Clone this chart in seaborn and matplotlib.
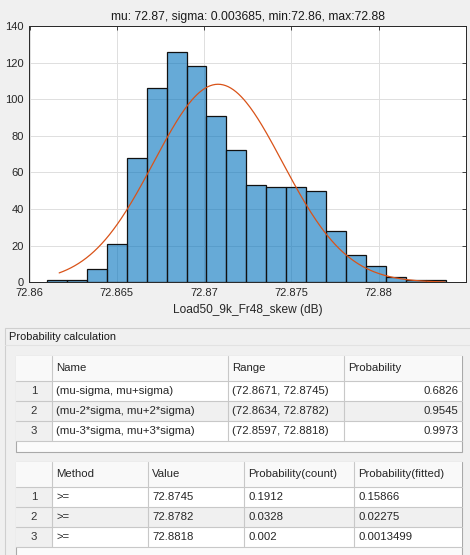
import numpy as np
import pandas as pd
import matplotlib
matplotlib.use('Agg')
import matplotlib.pyplot as plt
from matplotlib.patches import Rectangle
import seaborn as sns

# histogram
bin_lo = 72.8610
bin_width = 0.001142
counts = [1, 1, 7, 21, 68, 106, 126, 118, 91, 72, 53, 52, 52, 50, 28, 15, 9, 3, 1, 1]

# fitted normal (from the title / table)
mu = 72.8708
sigma = 0.003685
fit_lo, fit_hi = 72.8617, 72.8838

x_ticks = [72.86, 72.865, 72.87, 72.875, 72.88]
x_tick_labels = ['72.86', '72.865', '72.87', '72.875', '72.88']
y_ticks = [0, 20, 40, 60, 80, 100, 120, 140]

title = 'mu: 72.87, sigma: 0.003685, min:72.86, max:72.88'
xlabel = 'Load50_9k_Fr48_skew (dB)'

# tables
t1_cols = ['Name', 'Range', 'Probability']
t1_names = ['(mu-sigma, mu+sigma)', '(mu-2*sigma, mu+2*sigma)', '(mu-3*sigma, mu+3*sigma)']
t1_ranges = ['(72.8671, 72.8745)', '(72.8634, 72.8782)', '(72.8597, 72.8818)']
t1_probs = ['0.6826', '0.9545', '0.9973']

t2_cols = ['Method', 'Value', 'Probability(count)', 'Probability(fitted)']
t2_methods = ['>=', '>=', '>=']
t2_values = ['72.8745', '72.8782', '72.8818']
t2_count = ['0.1912', '0.0328', '0.002']
t2_fitted = ['0.15866', '0.02275', '0.0013499']

sns.set_style('white')
plt.rcParams['font.family'] = ['Liberation Sans', 'DejaVu Sans']

W, H = 470, 555
fig = plt.figure(figsize=(W / 100, H / 100), dpi=100)
fig.patch.set_facecolor('#f0f0f0')

TFS = 8.2  # table font size

# ---------------- table panel (pixel coordinates) ----------------
pan = fig.add_axes([0, 0, 1, 1], zorder=0)
pan.set_xlim(0, W)
pan.set_ylim(H, 0)
pan.axis('off')

pan.add_patch(Rectangle((5, 328), 470, 240, facecolor='#f0f0f0', edgecolor='#cfcfcf', lw=0.8))
pan.plot([5, 470], [345, 345], color='#e2e2e2', lw=0.8)
pan.text(9, 337, 'Probability calculation', fontsize=7.9, color='#1a1a1a', va='center', ha='left')


def draw_table(top, col_edges, col_names, rows, aligns, bottom):
    left, right = col_edges[0], col_edges[-1]
    head_h, row_h = 25, 20
    # outer frame / white background
    pan.add_patch(Rectangle((left, top), right - left, bottom - top, facecolor='#fbfbfb',
                            edgecolor='#a9a9a9', lw=0.8, zorder=1))
    # header
    pan.add_patch(Rectangle((left, top), right - left, head_h, facecolor='#f9f9f9',
                            edgecolor='none', zorder=1))
    for j, name in enumerate(col_names):
        pan.text(col_edges[j + 1] + 4, top + head_h / 2, name, fontsize=TFS, color='#262626',
                 va='center', ha='left', zorder=3)
    # rows
    for i, row in enumerate(rows):
        y0 = top + head_h + i * row_h
        pan.add_patch(Rectangle((left, y0), col_edges[1] - left, row_h, facecolor='#f0f0f0',
                                edgecolor='none', zorder=1))
        fc = '#f0f0f0' if i % 2 == 1 else 'white'
        pan.add_patch(Rectangle((col_edges[1], y0), right - col_edges[1], row_h, facecolor=fc,
                                edgecolor='none', zorder=1))
        pan.text((left + col_edges[1]) / 2, y0 + row_h / 2, str(i + 1), fontsize=TFS,
                 color='#333333', va='center', ha='center', zorder=3)
        for j, val in enumerate(row):
            if aligns[j] == 'right':
                pan.text(col_edges[j + 2] - 3, y0 + row_h / 2, val, fontsize=TFS, color='#262626',
                         va='center', ha='right', zorder=3)
            else:
                pan.text(col_edges[j + 1] + 4, y0 + row_h / 2, val, fontsize=TFS, color='#262626',
                         va='center', ha='left', zorder=3)
    # grid lines
    n = len(rows)
    last = top + head_h + n * row_h
    for k in range(n + 1):
        yy = top + head_h + k * row_h
        pan.plot([left, right], [yy, yy], color='#c8c8c8', lw=0.8, zorder=2)
    for xx in col_edges[1:-1]:
        pan.plot([xx, xx], [top, last], color='#c8c8c8', lw=0.8, zorder=2)


draw_table(355.7, [15.7, 52.3, 227.7, 344.3, 461.7], t1_cols,
           list(zip(t1_names, t1_ranges, t1_probs)), ['left', 'left', 'right'], 451.7)
draw_table(461.7, [15.7, 52.3, 148.3, 244.3, 354.3, 461.7], t2_cols,
           list(zip(t2_methods, t2_values, t2_count, t2_fitted)),
           ['left', 'left', 'left', 'left'], 570)

# ---------------- histogram ----------------
ax = fig.add_axes([29.5 / W, 1 - 282.3 / H, (466 - 29.5) / W, (282.3 - 26) / H], zorder=2)
ax.set_facecolor('white')

edges = [bin_lo + bin_width * k for k in range(len(counts) + 1)]
centers = [(a + b) / 2 for a, b in zip(edges[:-1], edges[1:])]
df = pd.DataFrame({'x': centers, 'count': counts})
sns.histplot(data=df, x='x', weights='count', bins=edges, stat='count',
             color='#0072BD', alpha=0.6, edgecolor='#111111', linewidth=0.9, ax=ax, zorder=2)

xf = np.linspace(fit_lo, fit_hi, 300)
yf = sum(counts) * bin_width * np.exp(-0.5 * ((xf - mu) / sigma) ** 2) / (sigma * np.sqrt(2 * np.pi))
sns.lineplot(x=xf, y=yf, color='#D95319', linewidth=0.9, ax=ax, zorder=3)

ax.set_xlim(72.86, 72.885)
ax.set_ylim(0, 140)
ax.set_xticks(x_ticks)
ax.set_xticklabels(x_tick_labels)
ax.set_yticks(y_ticks)
ax.grid(True, color='#dedede', linewidth=0.7)
ax.set_axisbelow(True)
ax.tick_params(direction='in', length=3, width=0.6, top=True, right=True,
               labelsize=8, labelcolor='#262626', colors='#262626')
ax.tick_params(axis='x', pad=4)
ax.tick_params(axis='y', pad=4)
for s in ax.spines.values():
    s.set_color('#262626')
    s.set_linewidth(0.7)
ax.set_title(title, fontsize=8.7, color='#1a1a1a', pad=4)
ax.set_xlabel(xlabel, fontsize=8.6, color='#262626', labelpad=4.5)
ax.set_ylabel('')

fig.savefig('out.png', dpi=100, facecolor=fig.get_facecolor())
